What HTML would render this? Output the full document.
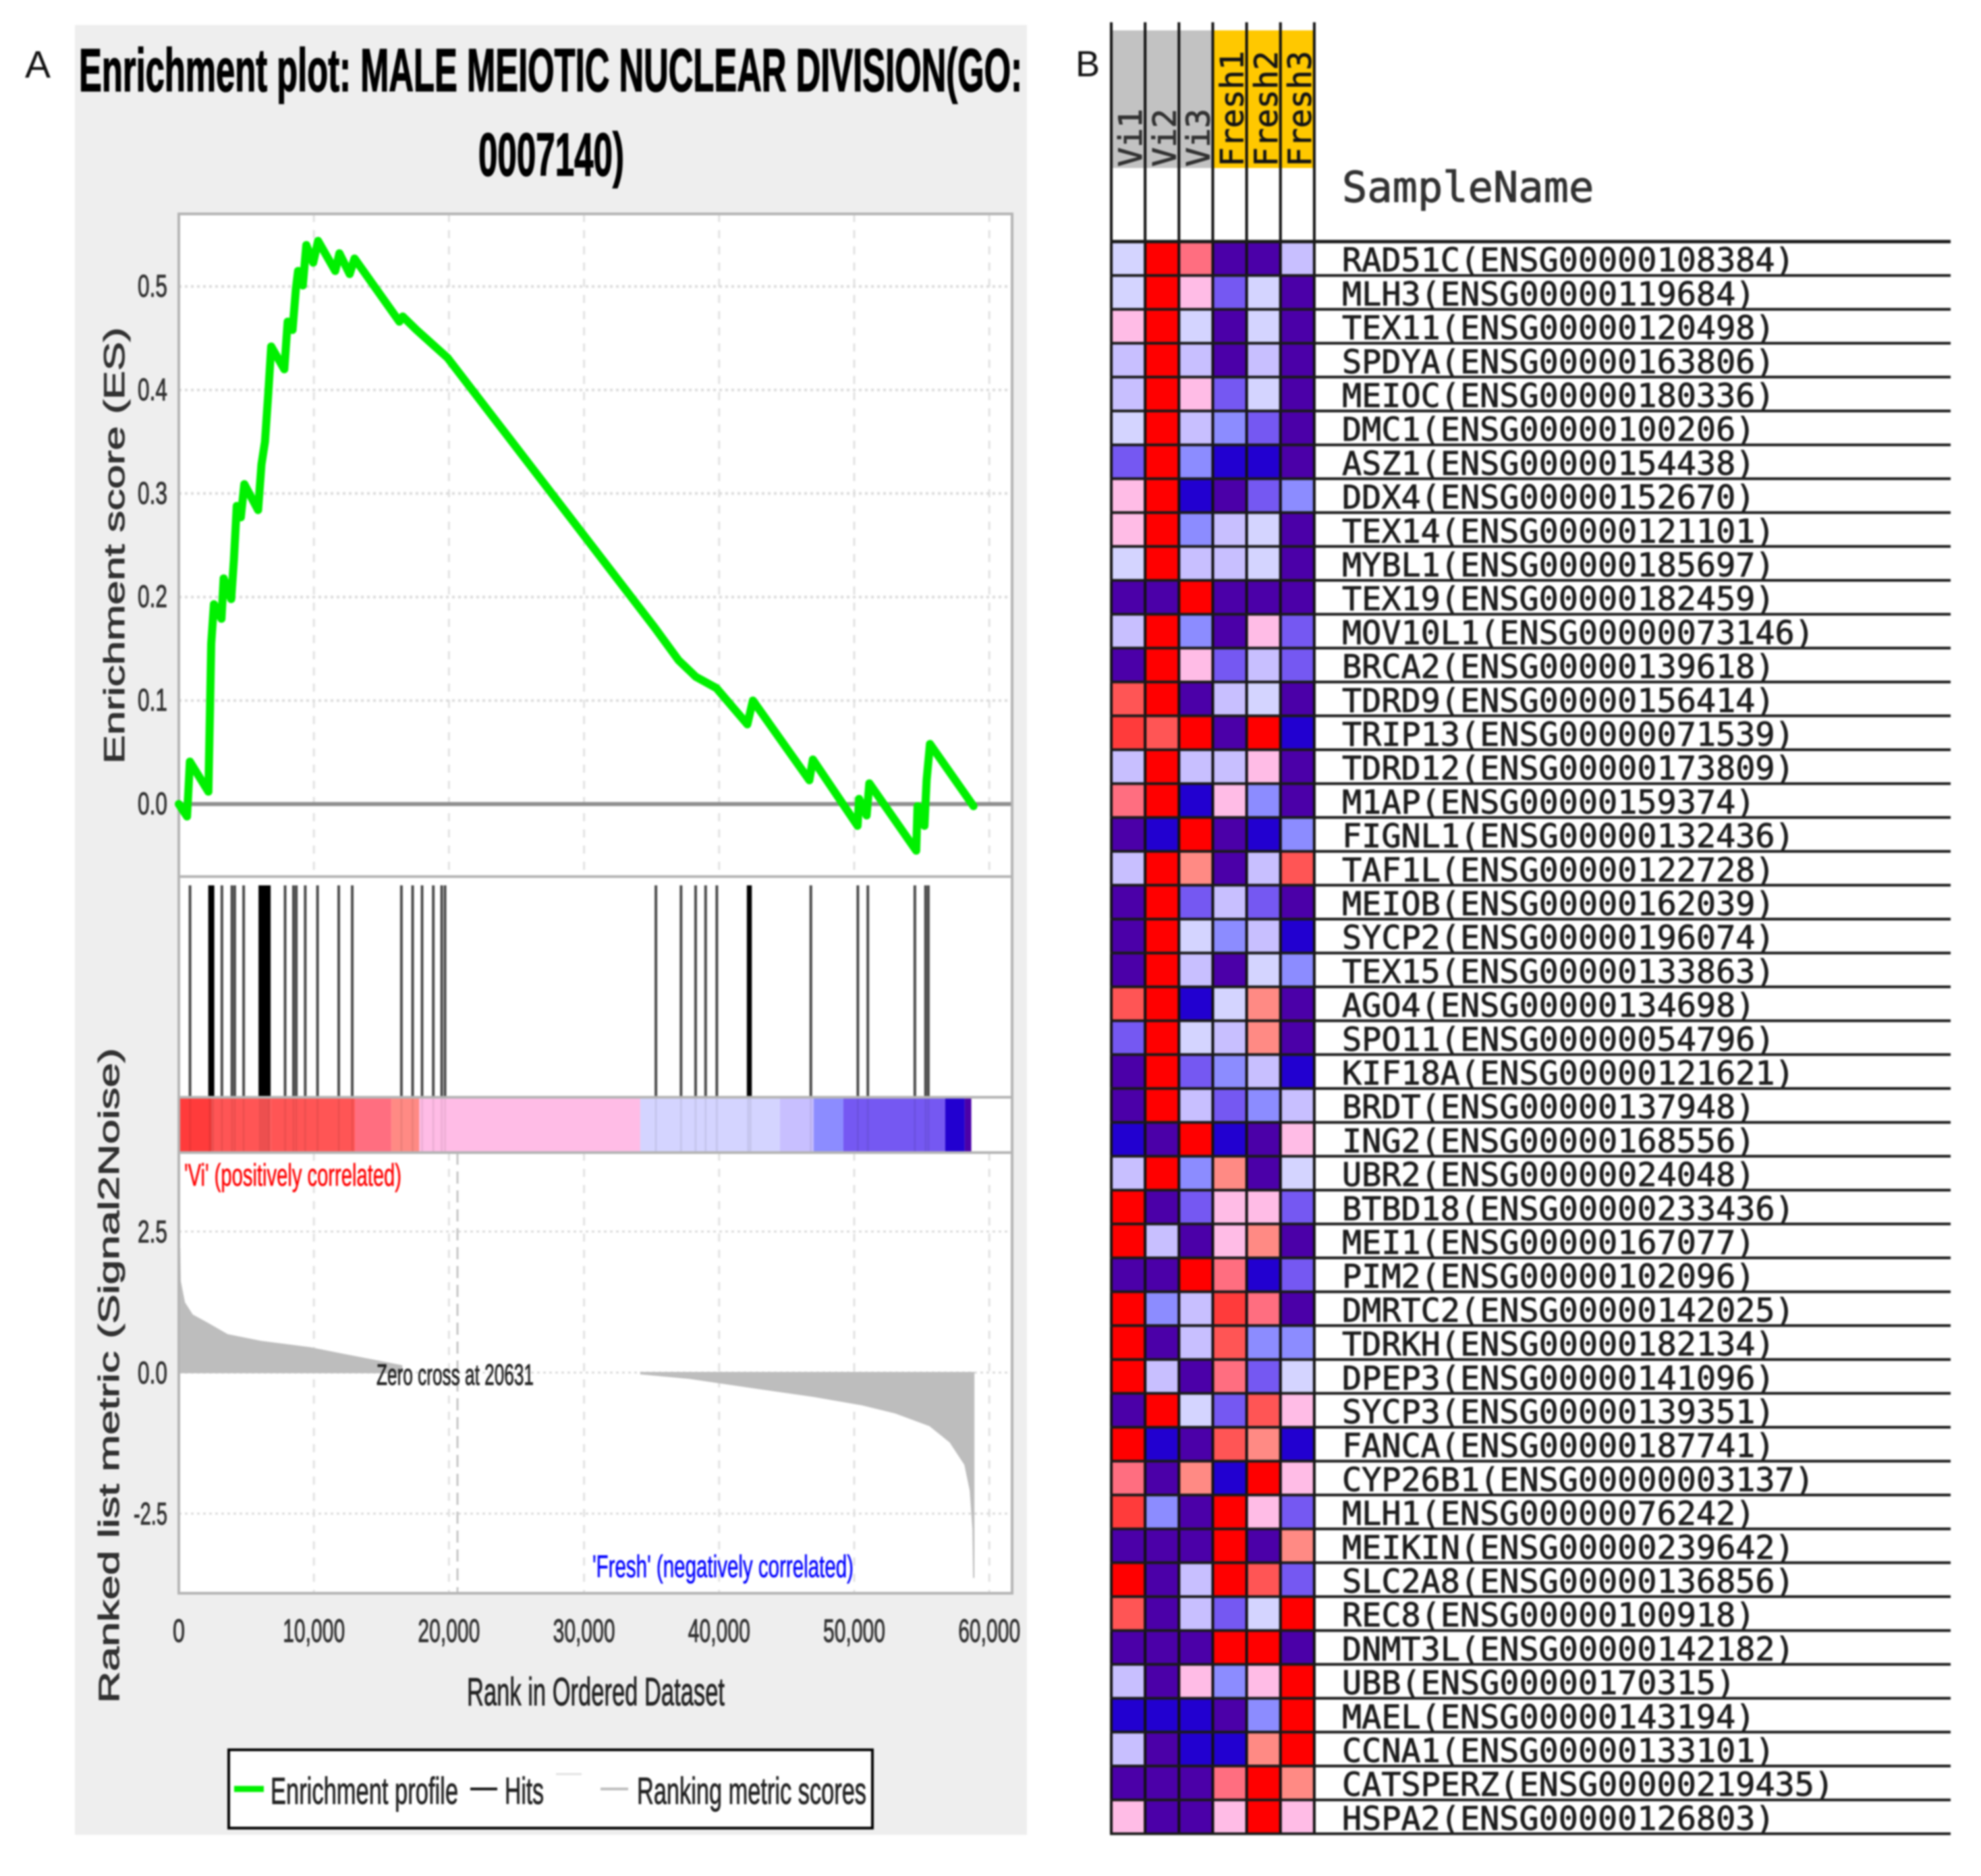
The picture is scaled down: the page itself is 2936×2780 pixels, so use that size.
<!DOCTYPE html>
<html lang="en">
<head>
<meta charset="utf-8">
<title>GSEA enrichment plot and heatmap</title>
<style>
html,body{margin:0;padding:0;background:#fff;}
svg{display:block;filter:blur(1.4px);}
text{font-family:"Liberation Sans",sans-serif;}
.mono{font-family:"DejaVu Sans Mono","Liberation Mono",monospace;}
text.h{stroke:#222;stroke-width:.9px;}
text.hk{stroke:#000;stroke-width:1.6px;}
text.hr{stroke:#ff0000;stroke-width:.6px;}
text.hb{stroke:#0000ff;stroke-width:.6px;}
</style>
</head>
<body>
<svg id="fig" xmlns="http://www.w3.org/2000/svg" width="2936" height="2780" viewBox="0 0 2936 2780">
  <rect x="0" y="0" width="2936" height="2780" fill="#ffffff"/>
  <rect x="111" y="37" width="1411" height="2682" fill="#eeeeee"/>
  <text x="56" y="115" font-size="57" text-anchor="middle" fill="#111">A</text>
  <text x="1612" y="113" font-size="54" text-anchor="middle" fill="#111">B</text>
  <text class="hk" x="117" y="135" font-size="90" font-weight="bold" fill="#000" textLength="1398" lengthAdjust="spacingAndGlyphs">Enrichment plot: MALE MEIOTIC NUCLEAR DIVISION(GO:</text>
  <text class="hk" x="709" y="260" font-size="90" font-weight="bold" fill="#000" textLength="216" lengthAdjust="spacingAndGlyphs">0007140)</text>

  <rect x="265" y="317" width="1235" height="2044" fill="#ffffff"/>
  <g id="grid"></g>
  <g id="metric"></g>
  <g id="colorbar"></g>
  <g id="hits"></g>
  <rect x="265" y="317" width="1235" height="2044" fill="none" stroke="#b4b4b4" stroke-width="4"/>
  <line x1="265" y1="1299" x2="1500" y2="1299" stroke="#b4b4b4" stroke-width="4"/>
  <line x1="265" y1="1626" x2="1500" y2="1626" stroke="#b4b4b4" stroke-width="4"/>
  <line x1="265" y1="1708" x2="1500" y2="1708" stroke="#b4b4b4" stroke-width="4"/>
  <g id="es"></g>
  <g id="ticks"></g>

  <text class="h" transform="translate(184,1132) rotate(-90)" font-size="43" fill="#333" textLength="647" lengthAdjust="spacingAndGlyphs">Enrichment score (ES)</text>
  <text class="h" transform="translate(176,2524) rotate(-90)" font-size="43" fill="#333" textLength="971" lengthAdjust="spacingAndGlyphs">Ranked list metric (Signal2Noise)</text>
  <text class="h" x="692" y="2527" font-size="58" fill="#222" textLength="382" lengthAdjust="spacingAndGlyphs">Rank in Ordered Dataset</text>

  <text class="hr" x="273" y="1757" font-size="46" fill="#ff0000" textLength="322" lengthAdjust="spacingAndGlyphs">'Vi' (positively correlated)</text>
  <text class="hb" x="878" y="2337" font-size="46" fill="#0000ff" textLength="387" lengthAdjust="spacingAndGlyphs">'Fresh' (negatively correlated)</text>
  <text class="h" x="558" y="2052" font-size="44" fill="#222" textLength="233" lengthAdjust="spacingAndGlyphs">Zero cross at 20631</text>

  <g>
    <rect x="339" y="2593" width="954" height="116" fill="#ffffff" stroke="#000" stroke-width="4"/>
    <line x1="347" y1="2651" x2="391" y2="2651" stroke="#00f000" stroke-width="9"/>
    <text class="h" x="401" y="2673" font-size="56" fill="#222" textLength="278" lengthAdjust="spacingAndGlyphs">Enrichment profile</text>
    <line x1="697" y1="2651" x2="737" y2="2651" stroke="#111" stroke-width="4"/>
    <text class="h" x="748" y="2673" font-size="56" fill="#222" textLength="58" lengthAdjust="spacingAndGlyphs">Hits</text>
    <line x1="824" y1="2629" x2="862" y2="2629" stroke="#e2e2e2" stroke-width="3"/>
    <line x1="890" y1="2651" x2="931" y2="2651" stroke="#bdbdbd" stroke-width="4"/>
    <text class="h" x="944" y="2673" font-size="56" fill="#222" textLength="340" lengthAdjust="spacingAndGlyphs">Ranking metric scores</text>
  </g>

  <g id="heat-head"></g>
  <g id="heat-cells"></g>
  <g id="heat-lines"></g>
  <g id="heat-labels"></g>
  <text class="mono h" x="1989" y="299" font-size="62" fill="#333">SampleName</text>
</svg>

<script>
// ---- Enrichment profile data (rank in thousands, running ES) ----
const esRanks = [0,0.61,0.82,2.19,2.30,2.40,2.60,3.16,3.32,3.88,4.08,4.29,4.59,4.85,5.87,6.12,6.38,6.63,6.84,7.81,8.06,8.42,8.67,8.83,9.18,9.44,9.95,10.31,11.58,11.89,12.65,13.01,16.33,16.58,17.6,19.9,27.55,35.2,36.99,38.27,39.8,42.09,42.5,46.68,46.94,50.25,50.36,50.92,51.12,54.59,54.69,55.2,55.36,55.61,58.83];
const esValues = [0,-0.012,0.041,0.012,0.085,0.155,0.193,0.179,0.218,0.198,0.236,0.288,0.277,0.309,0.284,0.328,0.350,0.398,0.442,0.420,0.466,0.458,0.498,0.515,0.501,0.540,0.523,0.544,0.515,0.532,0.512,0.527,0.466,0.471,0.458,0.431,0.301,0.171,0.139,0.123,0.112,0.077,0.100,0.023,0.043,-0.021,0.005,-0.011,0.020,-0.045,-0.002,-0.021,0.023,0.058,-0.002];
const hitRanks = [0.83,2.28,2.40,2.53,3.19,3.93,4.14,4.80,6.0,6.15,6.3,6.45,6.6,6.7,7.87,8.49,8.70,9.36,10.27,11.84,12.84,16.48,17.31,18.01,18.84,19.46,19.71,35.32,37.18,38.26,39.0,39.83,42.15,42.32,46.79,50.27,51.01,54.49,55.28,55.49];
const metricRanks = [0,0.06,0.1,0.41,1,2,3.6,6.1,9.7,12.2,14.8,16.5,17,34.2,37.8,42.9,47,50.6,53,55.6,57.1,58.2,58.6,58.8,58.85];
const metricValues = [2.33,2.2,1.62,1.24,1.02,0.89,0.67,0.55,0.44,0.32,0.2,0.12,0,-0.02,-0.1,-0.28,-0.42,-0.57,-0.71,-0.94,-1.23,-1.63,-2.09,-2.78,-3.64];
const barEnds = [2.4,6.83,13.04,15.73,17.8,34.16,44.5,47,49.2,56.73,58.18,58.67];
const barLevels = ["T","O","O","R","S","K","W","V","L","M","B","P"];
const xTicks = [0,10,20,30,40,50,60];
const xTickLabels = ["0","10,000","20,000","30,000","40,000","50,000","60,000"];
const esTicks = [0,0.1,0.2,0.3,0.4,0.5];
const esTickLabels = ["0.0","0.1","0.2","0.3","0.4","0.5"];
const metricTicks = [-2.5,0,2.5];
const metricTickLabels = ["-2.5","0.0","2.5"];
const zeroCross = 20.631;

// ---- Heatmap data ----
const samples = ["Vi1","Vi2","Vi3","Fresh1","Fresh2","Fresh3"];
const genes = ["RAD51C(ENSG00000108384)","MLH3(ENSG00000119684)","TEX11(ENSG00000120498)","SPDYA(ENSG00000163806)","MEIOC(ENSG00000180336)","DMC1(ENSG00000100206)","ASZ1(ENSG00000154438)","DDX4(ENSG00000152670)","TEX14(ENSG00000121101)","MYBL1(ENSG00000185697)","TEX19(ENSG00000182459)","MOV10L1(ENSG00000073146)","BRCA2(ENSG00000139618)","TDRD9(ENSG00000156414)","TRIP13(ENSG00000071539)","TDRD12(ENSG00000173809)","M1AP(ENSG00000159374)","FIGNL1(ENSG00000132436)","TAF1L(ENSG00000122728)","MEIOB(ENSG00000162039)","SYCP2(ENSG00000196074)","TEX15(ENSG00000133863)","AGO4(ENSG00000134698)","SPO11(ENSG00000054796)","KIF18A(ENSG00000121621)","BRDT(ENSG00000137948)","ING2(ENSG00000168556)","UBR2(ENSG00000024048)","BTBD18(ENSG00000233436)","MEI1(ENSG00000167077)","PIM2(ENSG00000102096)","DMRTC2(ENSG00000142025)","TDRKH(ENSG00000182134)","DPEP3(ENSG00000141096)","SYCP3(ENSG00000139351)","FANCA(ENSG00000187741)","CYP26B1(ENSG00000003137)","MLH1(ENSG00000076242)","MEIKIN(ENSG00000239642)","SLC2A8(ENSG00000136856)","REC8(ENSG00000100918)","DNMT3L(ENSG00000142182)","UBB(ENSG00000170315)","MAEL(ENSG00000143194)","CCNA1(ENSG00000133101)","CATSPERZ(ENSG00000219435)","HSPA2(ENSG00000126803)"];
const heatLevels = ["WXRPPV","WXKMWP","KXWPWP","VXVPVP","VXKMWP","WXVLMP","MXLBBP","KXBPML","KXLVWP","WXVVWP","PPXPPP","VXLPKM","PXKMVM","OXPVWP","TOXPXB","VXVVKP","RXBKLP","PBXPBL","VXSPVO","PXMVMP","PXWLVB","PXVPWL","OXBWSP","MXWVSP","PXMLVB","PXVMLV","BPXBPK","VXLSPW","XPMKKM","XVPKSP","PPXRBM","XLVTRP","XPVOLL","XVPRMW","PXWMOK","XBPOSB","RPSBXK","TLPXKM","PPPXPS","XPVXOM","OPVMWX","PPPXXP","VPKLKX","BBBPLX","VPBBSX","PPPRXS","KPPKXK"];

const levelColor = {P:"#4b00a8",B:"#2200d0",M:"#7558f2",L:"#8c8cff",V:"#c8bfff",W:"#d4d4ff",K:"#ffbce6",S:"#ff8a84",R:"#ff6e80",O:"#ff5555",T:"#ff3b3b",X:"#ff0000"};

// ---- Axis functions ----
const xScale = r => 265 + r * 20.02;
const esScale = v => 1191.5 - v * 1534;
const metricScale = v => 2034 - v * 83.6;
const colScale = c => 1647 + c * 50.15;
const rowScale = r => 358 + r * 50.2;

const NS = "http://www.w3.org/2000/svg";
function mk(parent, tag, attrs, txt){
  const e = document.createElementNS(NS, tag);
  for (const k in attrs) e.setAttribute(k, attrs[k]);
  if (txt !== undefined) e.textContent = txt;
  document.getElementById(parent).appendChild(e);
  return e;
}

// Grid
xTicks.forEach(t => {
  if (t === 0) return;
  [[317,1299],[1708,2361]].forEach(([a,b]) => {
    const el = mk("grid","line",{x1:xScale(t),x2:xScale(t),y1:a,y2:b,stroke:"#e2e2e2","stroke-width":3,"stroke-dasharray":"12 12"});
    
    
  });
});
esTicks.forEach(t => {
  if (t === 0) return;
  const el = mk("grid","line",{x1:265,x2:1500,y1:esScale(t),y2:esScale(t),stroke:"#dcdcdc","stroke-width":4,"stroke-dasharray":"4 5"});
  
  
});
metricTicks.forEach(t => {
  const el = mk("grid","line",{x1:265,x2:1500,y1:metricScale(t),y2:metricScale(t),stroke:"#dcdcdc","stroke-width":3,"stroke-dasharray":"4 5"});
  
  
});
const zeroLine = mk("grid","line",{x1:265,x2:1500,y1:esScale(0),y2:esScale(0),stroke:"#8f8f8f","stroke-width":6});


const crossLine = mk("grid","line",{x1:xScale(zeroCross),x2:xScale(zeroCross),y1:1708,y2:2361,stroke:"#c4c4c4","stroke-width":3,"stroke-dasharray":"18 10"});



// Metric area: contiguous non-zero runs become separate filled shapes
let metricRun = [];
function flushMetricRun(){
  if (metricRun.length > 1) {
    const first = metricRun[0][0];
    const last = metricRun[metricRun.length-1][0];
    const pts = [xScale(first)+","+metricScale(0)]
      .concat(metricRun.map(p => xScale(p[0])+","+metricScale(p[1])))
      .concat([xScale(last)+","+metricScale(0)]);
    const area = mk("metric","polygon",{points:pts.join(" "),fill:"#bdbdbd",stroke:"#bdbdbd","stroke-width":2});
    
    
  }
  metricRun = [];
}
metricRanks.forEach((r,i) => {
  if (metricValues[i] === 0) flushMetricRun();
  else metricRun.push([r, metricValues[i]]);
});
flushMetricRun();

// Colour bar
barEnds.forEach((end,i) => {
  const start = i === 0 ? 0 : barEnds[i-1];
  const el = mk("colorbar","rect",{x:xScale(start),y:1628,width:xScale(end)-xScale(start),height:78,fill:levelColor[barLevels[i]]});
  
  
});

// Hits (clustered hits read as solid black bands), with faint echoes over the colour bar
hitRanks.forEach((r,i) => {
  const clustered = (i > 0 && r - hitRanks[i-1] < 0.2) || (i < hitRanks.length-1 && hitRanks[i+1] - r < 0.2);
  const el = mk("hits","line",{x1:xScale(r),x2:xScale(r),y1:1312,y2:1626,stroke:clustered?"#000000":"#4a4a4a","stroke-width":4});
  
  
  const echo = mk("hits","line",{x1:xScale(r),x2:xScale(r),y1:1628,y2:1706,stroke:"rgba(0,0,0,0.07)","stroke-width":3});
  
  
});

// ES curve
const esPath = mk("es","polyline",{points:esRanks.map((r,i)=>xScale(r)+","+esScale(esValues[i])).join(" "),fill:"none",stroke:"#00f000","stroke-width":12,"stroke-linejoin":"round","stroke-linecap":"round"});



// Tick labels
xTicks.forEach((t,i) => {
  const label = xTickLabels[i];
  const el = mk("ticks","text",{class:"h",x:xScale(t),y:2433,"font-size":48,fill:"#333","text-anchor":"middle",textLength:label.length>1?92:18,lengthAdjust:"spacingAndGlyphs"},label);
  
  
});
esTicks.forEach((t,i) => {
  const el = mk("ticks","text",{class:"h",x:248,y:esScale(t)+15,"font-size":46,fill:"#333","text-anchor":"end",textLength:44,lengthAdjust:"spacingAndGlyphs"},esTickLabels[i]);
  
  
});
metricTicks.forEach((t,i) => {
  const label = metricTickLabels[i];
  const el = mk("ticks","text",{class:"h",x:248,y:metricScale(t)+16,"font-size":46,fill:"#333","text-anchor":"end",textLength:label.length>3?50:44,lengthAdjust:"spacingAndGlyphs"},label);
  
  
});

// Heatmap header
samples.forEach((s,c) => {
  const h = mk("heat-head","rect",{x:colScale(c),y:45,width:colScale(c+1)-colScale(c),height:204,fill:c<3?"#c2c2c2":"#ffc800"});
  
  
  const t = mk("heat-head","text",{class:"mono h",transform:"translate("+(colScale(c+1)-5)+",247) rotate(-90)","font-size":47.5,fill:c<3?"#333":"#111"},s);
  
  
});

// Heatmap cells
heatLevels.forEach((row,r) => {
  row.split("").forEach((lv,c) => {
    const el = mk("heat-cells","rect",{x:colScale(c),y:rowScale(r),width:colScale(c+1)-colScale(c),height:rowScale(r+1)-rowScale(r),fill:levelColor[lv]});
    
    
  });
});

// Heatmap grid lines
for (let c = 0; c <= samples.length; c++) {
  const el = mk("heat-lines","line",{x1:colScale(c),x2:colScale(c),y1:33,y2:rowScale(genes.length),stroke:"#111","stroke-width":4});
  
  
}
for (let r = 0; r <= genes.length; r++) {
  const el = mk("heat-lines","line",{x1:1645,x2:2891,y1:rowScale(r),y2:rowScale(r),stroke:"#1a1a1a","stroke-width":r===0?5:4});
  
  
}

// Gene labels
genes.forEach((g,r) => {
  const el = mk("heat-labels","text",{class:"mono h",x:1989,y:rowScale(r+1)-6,"font-size":48.45,fill:"#1c1c1c"},g);
  
  
});
</script>
</body>
</html>
